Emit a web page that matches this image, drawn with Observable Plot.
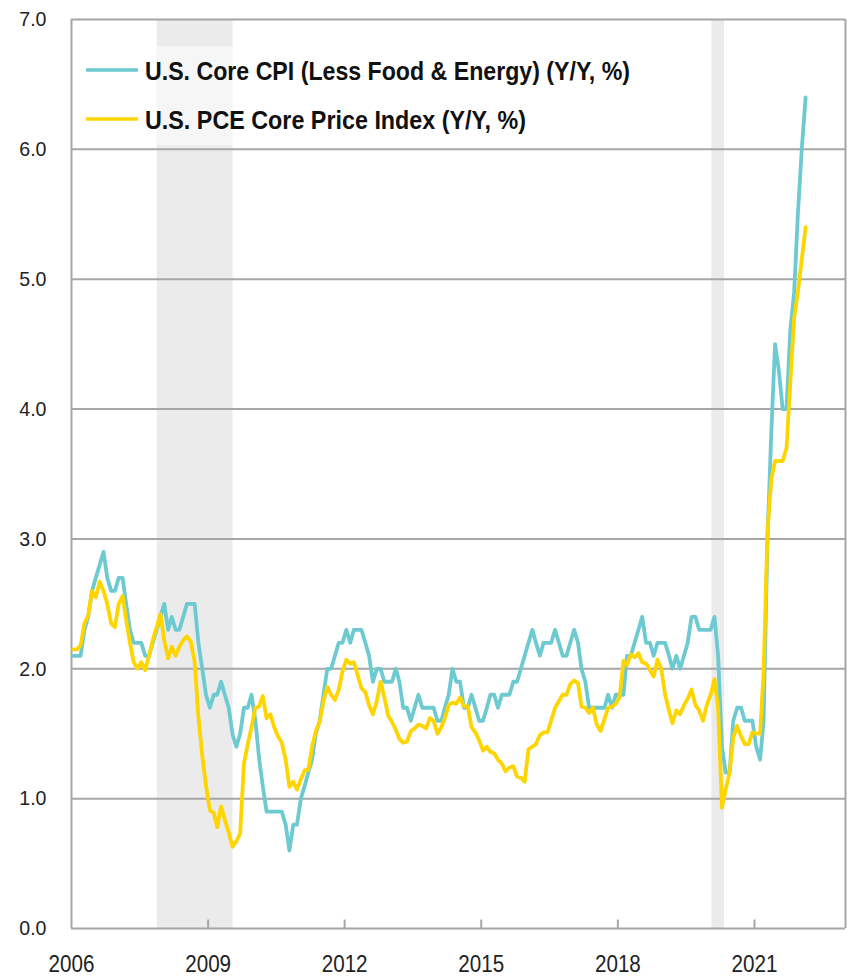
<!DOCTYPE html>
<html>
<head>
<meta charset="utf-8">
<script src="https://cdn.jsdelivr.net/npm/d3@7"></script>
<script src="https://cdn.jsdelivr.net/npm/@observablehq/plot@0.6"></script>
<style>
  html, body { margin: 0; padding: 0; background: #fff; }
  #chart svg { display: block; }
</style>
</head>
<body>
<div id="chart"></div>
<script>
// ---- Data (monthly Y/Y %, Jan 2006 – Feb 2022) ----
const startYear = 2006;
const cpiCore = [
  2.1, 2.1, 2.1, 2.3, 2.4, 2.6, 2.7, 2.8, 2.9, 2.7, 2.6, 2.6,
  2.7, 2.7, 2.5, 2.3, 2.2, 2.2, 2.2, 2.1, 2.1, 2.2, 2.3, 2.4,
  2.5, 2.3, 2.4, 2.3, 2.3, 2.4, 2.5, 2.5, 2.5, 2.2, 2.0, 1.8,
  1.7, 1.8, 1.8, 1.9, 1.8, 1.7, 1.5, 1.4, 1.5, 1.7, 1.7, 1.8,
  1.6, 1.3, 1.1, 0.9, 0.9, 0.9, 0.9, 0.9, 0.8, 0.6, 0.8, 0.8,
  1.0, 1.1, 1.2, 1.3, 1.5, 1.6, 1.8, 2.0, 2.0, 2.1, 2.2, 2.2,
  2.3, 2.2, 2.3, 2.3, 2.3, 2.2, 2.1, 1.9, 2.0, 2.0, 1.9, 1.9,
  1.9, 2.0, 1.9, 1.7, 1.7, 1.6, 1.7, 1.8, 1.7, 1.7, 1.7, 1.7,
  1.6, 1.6, 1.7, 1.8, 2.0, 1.9, 1.9, 1.7, 1.7, 1.8, 1.7, 1.6,
  1.6, 1.7, 1.8, 1.8, 1.7, 1.8, 1.8, 1.8, 1.9, 1.9, 2.0, 2.1,
  2.2, 2.3, 2.2, 2.1, 2.2, 2.2, 2.2, 2.3, 2.2, 2.1, 2.1, 2.2,
  2.3, 2.2, 2.0, 1.9, 1.7, 1.7, 1.7, 1.7, 1.7, 1.8, 1.7, 1.8,
  1.8, 1.8, 2.1, 2.1, 2.2, 2.3, 2.4, 2.2, 2.2, 2.1, 2.2, 2.2,
  2.2, 2.1, 2.0, 2.1, 2.0, 2.1, 2.2, 2.4, 2.4, 2.3, 2.3, 2.3,
  2.3, 2.4, 2.1, 1.4, 1.2, 1.2, 1.6, 1.7, 1.7, 1.6, 1.6, 1.6,
  1.4, 1.3, 1.6, 3.0, 3.8, 4.5, 4.3, 4.0, 4.0, 4.6, 4.9, 5.5,
  6.0, 6.4
];
const pceCore = [
  2.15, 2.15, 2.18, 2.35, 2.41, 2.60, 2.55, 2.67, 2.60, 2.50, 2.35, 2.32,
  2.50, 2.56, 2.38, 2.20, 2.05, 2.00, 2.05, 1.99, 2.10, 2.22, 2.32, 2.42,
  2.22, 2.08, 2.17, 2.10, 2.17, 2.22, 2.25, 2.21, 2.05, 1.63, 1.33, 1.10,
  0.91, 0.89, 0.78, 0.94, 0.84, 0.74, 0.63, 0.67, 0.73, 1.27, 1.42, 1.55,
  1.70, 1.71, 1.79, 1.62, 1.65, 1.55, 1.48, 1.43, 1.30, 1.09, 1.13, 1.07,
  1.15, 1.22, 1.22, 1.40, 1.52, 1.59, 1.75, 1.86, 1.80, 1.76, 1.84, 1.98,
  2.07, 2.04, 2.05, 1.95, 1.85, 1.82, 1.72, 1.65, 1.75, 1.90, 1.78, 1.64,
  1.59, 1.53, 1.46, 1.43, 1.44, 1.52, 1.54, 1.57, 1.56, 1.54, 1.62, 1.60,
  1.50, 1.55, 1.62, 1.72, 1.74, 1.73, 1.78, 1.71, 1.71, 1.55, 1.51, 1.45,
  1.37, 1.40, 1.36, 1.35, 1.30, 1.27, 1.21, 1.24, 1.25, 1.17, 1.16, 1.13,
  1.38, 1.40, 1.42, 1.49, 1.51, 1.51, 1.60, 1.70, 1.75, 1.80, 1.80, 1.88,
  1.91, 1.89, 1.71, 1.70, 1.66, 1.70, 1.57, 1.52, 1.61, 1.70, 1.71, 1.73,
  1.78, 2.06, 2.03, 2.11, 2.09, 2.12, 2.05, 2.04, 1.99, 1.94, 2.07, 2.00,
  1.80, 1.68, 1.58, 1.68, 1.65, 1.72, 1.77, 1.84, 1.72, 1.68, 1.60, 1.72,
  1.80, 1.92, 1.70, 0.93, 1.07, 1.20, 1.47, 1.56, 1.48, 1.42, 1.42, 1.51,
  1.50, 1.50, 1.97, 3.05, 3.45, 3.60, 3.60, 3.60, 3.70, 4.20, 4.70, 4.90,
  5.15, 5.40
];
const recessions = [
  { start: "2007-11-20", end: "2009-07-20" },
  { start: "2020-01-25", end: "2020-05-05" }
];
const xTickYears = [2006, 2009, 2012, 2015, 2018, 2021];
const yTicks = [0, 1, 2, 3, 4, 5, 6, 7];
const seriesNames = ["U.S. Core CPI (Less Food & Energy) (Y/Y, %)", "U.S. PCE Core Price Index (Y/Y, %)"];
const seriesColors = ["#6dcad0", "#ffd500"];

// ---- Build tables ----
const monthDate = i => new Date(startYear + Math.floor(i / 12), i % 12, 15);
const cpiData = cpiCore.map((v, i) => ({ date: monthDate(i), v }));
const pceData = pceCore.map((v, i) => ({ date: monthDate(i), v }));
const recData = recessions.map(d => ({ start: new Date(d.start), end: new Date(d.end) }));
const xStart = new Date(2006, 0, 1), xEnd = new Date(2023, 0, 1);
const tickDates = xTickYears.map(y => new Date(y, 0, 1));

const FONT = "'Liberation Sans', Arial, sans-serif";
const GRID = "#a6a6a6";

const chart = Plot.plot({
  width: 848,
  height: 977,
  marginLeft: 71,
  marginRight: 3,
  marginTop: 19,
  marginBottom: 49,
  style: { fontFamily: FONT, fontSize: "21px", color: "#222", background: "#fff" },
  x: { type: "utc", domain: [xStart, xEnd] },
  y: { domain: [0, 7] },
  marks: [
    Plot.rect(recData, { x1: "start", x2: "end", y1: 0, y2: 7, fill: "#ebebeb" }),
    Plot.ruleY(yTicks, { stroke: GRID, strokeWidth: 2 }),
    Plot.ruleX([xStart, xEnd], { y1: 0, y2: 7, stroke: GRID, strokeWidth: 2 }),
    Plot.ruleX(tickDates.slice(1), { y1: 0, y2: 0.065, stroke: GRID, strokeWidth: 2 }),
    Plot.axisY({ ticks: yTicks, tickFormat: d3.format(".1f"), tickSize: 0, tickPadding: 25, fontSize: 21, label: null, fill: "#222" }),
    Plot.axisX({ ticks: tickDates, tickFormat: d3.utcFormat("%Y"), tickSize: 0, tickPadding: 26, fontSize: 24, label: null, fill: "#222" }),
    Plot.line(cpiData, { x: "date", y: "v", stroke: seriesColors[0], strokeWidth: 3.8, strokeLinejoin: "round" }),
    Plot.line(pceData, { x: "date", y: "v", stroke: seriesColors[1], strokeWidth: 3.8, strokeLinejoin: "round" })
  ]
});

// ---- Legend inside plot (top-left) ----
const svg = d3.select(chart);
const lg = svg.append("g").attr("class", "legend");
lg.append("rect").attr("x", 73).attr("y", 46).attr("width", 580).attr("height", 99)
  .attr("fill", "#fff").attr("fill-opacity", 0.55);
const legendWidths = [485, 381];
seriesNames.forEach((name, i) => {
  const yc = 70 + i * 49;
  lg.append("line").attr("x1", 86).attr("x2", 138).attr("y1", yc).attr("y2", yc)
    .attr("stroke", seriesColors[i]).attr("stroke-width", 3.5);
  lg.append("text").attr("x", 145).attr("y", yc + 9.5)
    .attr("text-anchor", "start")
    .attr("font-family", FONT).attr("font-weight", "bold").attr("font-size", 26)
    .attr("fill", "#111")
    .attr("textLength", legendWidths[i]).attr("lengthAdjust", "spacingAndGlyphs")
    .text(name);
});

document.getElementById("chart").appendChild(chart);

// condense tick labels to match the narrow face of the original
function condense(selection, factor) {
  selection.each(function () {
    const w = this.getComputedTextLength();
    this.setAttribute("textLength", (w * factor).toFixed(1));
    this.setAttribute("lengthAdjust", "spacingAndGlyphs");
  });
}
condense(svg.selectAll('g[aria-label="y-axis tick label"] text'), 0.93);
condense(svg.selectAll('g[aria-label="x-axis tick label"] text'), 0.86);
</script>
</body>
</html>
